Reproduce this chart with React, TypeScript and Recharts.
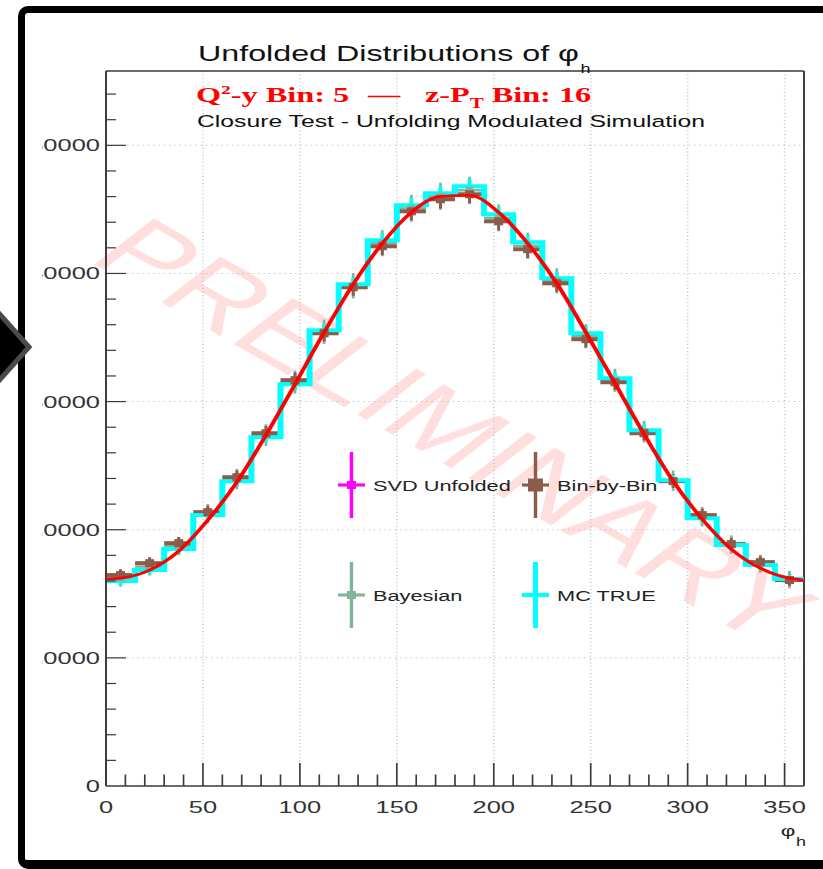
import React from 'react';
import { ComposedChart, Line, Scatter, ErrorBar, XAxis, YAxis, CartesianGrid, ReferenceLine, Legend } from 'recharts';

// bins of 15 degrees in phi_h
const phiCenters = [7.5, 22.5, 37.5, 52.5, 67.5, 82.5, 97.5, 112.5, 127.5, 142.5, 157.5, 172.5, 187.5, 202.5, 217.5, 232.5, 247.5, 262.5, 277.5, 292.5, 307.5, 322.5, 337.5, 352.5];
const phiEdges = [0, 15, 30, 45, 60, 75, 90, 105, 120, 135, 150, 165, 180, 195, 210, 225, 240, 255, 270, 285, 300, 315, 330, 345, 360];
const binHalfWidth = 7.5;

const mcTrue = [15990, 16850, 18490, 21140, 23790, 27220, 31360, 35570, 39160, 42590, 45320, 46250, 46800, 44620, 42430, 39620, 35330, 31820, 27770, 23870, 20900, 18800, 17240, 16150];
const mcTrueErr = [350, 360, 370, 390, 410, 440, 470, 500, 520, 540, 560, 570, 570, 560, 540, 520, 500, 470, 440, 410, 390, 370, 360, 350];
const binByBin = [16460, 17390, 18950, 21370, 24100, 27530, 31670, 35330, 38920, 42120, 44850, 45790, 46180, 44070, 41890, 39230, 34870, 31510, 27530, 23790, 21140, 18880, 17470, 16070];
const binByBinErr = [450, 460, 480, 500, 530, 560, 600, 640, 660, 690, 700, 720, 720, 700, 690, 660, 640, 600, 560, 530, 500, 480, 460, 450];
const bayesian = [16230, 17120, 18720, 21250, 23950, 27380, 31520, 35450, 39040, 42360, 45080, 46020, 46490, 44340, 42160, 39420, 35100, 31660, 27650, 23830, 21020, 18840, 17350, 16110];
const bayesianErr = [680, 700, 720, 760, 800, 850, 900, 950, 990, 1020, 1050, 1060, 1060, 1050, 1020, 990, 950, 900, 850, 800, 760, 720, 700, 680];

// red fit, read at bin centres and the range edges
const fitPhi = [0, 7.5, 22.5, 37.5, 52.5, 67.5, 82.5, 97.5, 112.5, 127.5, 142.5, 157.5, 172.5, 187.5, 202.5, 217.5, 232.5, 247.5, 262.5, 277.5, 292.5, 307.5, 322.5, 337.5, 352.5, 360];
const fitValues = [16150, 16220, 16850, 18330, 20750, 23710, 27380, 31360, 35410, 39160, 42350, 44770, 46020, 46100, 44770, 42350, 39230, 35410, 31430, 27460, 23790, 20830, 18490, 17000, 16220, 16070];

const xTicks = [0, 10, 20, 30, 40, 50, 60, 70, 80, 90, 100, 110, 120, 130, 140, 150, 160, 170, 180, 190, 200, 210, 220, 230, 240, 250, 260, 270, 280, 290, 300, 310, 320, 330, 340, 350];
const yTicks = [0, 2000, 4000, 6000, 8000, 10000, 12000, 14000, 16000, 18000, 20000, 22000, 24000, 26000, 28000, 30000, 32000, 34000, 36000, 38000, 40000, 42000, 44000, 46000, 48000, 50000, 52000, 54000];
const xGrid = [50, 100, 150, 200, 250, 300, 350];
const yGrid = [10000, 20000, 30000, 40000, 50000];
const xMax = 360;
const yMax = 55800;

const seriesNames = ['SVD Unfolded', 'Bin-by-Bin', 'Bayesian', 'MC TRUE'];
const seriesColors = ['#ff00ff', '#8c5b4a', '#7fb69a', '#00ffff'];

const sans = "'Liberation Sans', Arial, Helvetica, sans-serif";
const serif = "'Liberation Serif', 'Times New Roman', serif";
const axisColor = '#3a3a3a';

// the source picture is stretched horizontally, so everything is drawn narrow and scaled
const STRETCH = 1.5;
const W = 781 / STRETCH;
const H = 869;

const stepData = phiEdges.map((x, i) => ({ x, y: mcTrue[Math.min(i, mcTrue.length - 1)] }));
const mcPoints = phiCenters.map((x, i) => ({ x, y: mcTrue[i], ey: mcTrueErr[i] }));
const bbbPoints = phiCenters.map((x, i) => ({ x, y: binByBin[i], ex: binHalfWidth, ey: binByBinErr[i] }));
const bayPoints = phiCenters.map((x, i) => ({ x, y: bayesian[i], ex: binHalfWidth, ey: bayesianErr[i] }));
const fitData = fitPhi.map((x, i) => ({ x, y: fitValues[i] }));

const XTick = (props: any) => {
  const { x, y, payload } = props;
  const v = payload.value;
  const major = v % 50 === 0;
  return (
    <g>
      <line x1={x} x2={x} y1={y} y2={y - (major ? 23 : 11.5)} stroke={axisColor} strokeWidth={1.1} />
      {major && (
        <text x={x} y={y + 27} textAnchor="middle" fontSize={17} fontFamily={sans} fill="#333">{v}</text>
      )}
    </g>
  );
};

const YTick = (props: any) => {
  const { x, y, payload } = props;
  const v = payload.value;
  const major = v % 10000 === 0;
  return (
    <g>
      {v > 0 && <line x1={x} x2={x + (major ? 13.3 : 6.7)} y1={y} y2={y} stroke={axisColor} strokeWidth={1.2} />}
      {major && (
        <text x={x - 4} y={y + 6} textAnchor="end" fontSize={17} fontFamily={sans} fill="#333">{v}</text>
      )}
    </g>
  );
};

const square = (color: string, w: number, h: number) => (p: any) =>
  <rect x={p.cx - w / 2} y={p.cy - h / 2} width={w} height={h} fill={color} />;

const noMarker = () => <g />;

const renderLegend = () => {
  const cols = [16.3, 139];
  const rows = [45, 155];
  const markers = [
    { w: 6, h: 8, sw: 2.3 },
    { w: 10, h: 13, sw: 2.3 },
    { w: 6, h: 8, sw: 2.3 },
    { w: 0, h: 0, sw: 3.3 },
  ];
  return (
    <svg width={240} height={200} style={{ overflow: 'visible' }}>
      {seriesNames.map((name, i) => {
        const cx = cols[i % 2];
        const cy = rows[Math.floor(i / 2)];
        const m = markers[i];
        const c = seriesColors[i];
        return (
          <g key={name}>
            <line x1={cx} x2={cx} y1={cy - 33} y2={cy + 33} stroke={c} strokeWidth={m.sw} />
            <line x1={cx - 9} x2={cx + 9} y1={cy} y2={cy} stroke={c} strokeWidth={m.sw + 0.8} />
            {m.w > 0 && <rect x={cx - m.w / 2} y={cy - m.h / 2} width={m.w} height={m.h} fill={c} />}
            <text x={cx + 14.4} y={cy + 6} fontSize={14.5} fontFamily={sans} fill="#222">{name}</text>
          </g>
        );
      })}
    </svg>
  );
};

export default function App() {
  return (
    <div style={{ position: 'absolute', left: 0, top: 0, width: 823, height: 869, overflow: 'hidden', background: '#fff' }}>
      {/* slide frame around the screenshot (open on the right) */}
      <div style={{ position: 'absolute', left: 18, top: 6, width: 860, height: 863, boxSizing: 'border-box', borderTop: '7px solid #000', borderLeft: '7px solid #000', borderBottom: '9px solid #000', borderRight: 'none', borderTopLeftRadius: 10, borderBottomLeftRadius: 10 }} />
      <div style={{ position: 'absolute', left: 42, top: 0, width: 781, height: 860, overflow: 'hidden' }}>
        <div style={{ position: 'absolute', left: 0, top: 0, width: W, height: H, transform: `scaleX(${STRETCH})`, transformOrigin: '0 0' }}>
          <svg width={W} height={H} style={{ position: 'absolute', left: 0, top: 0 }}>
            <text x={275.3} y={430} transform="rotate(40.6 275.3 430)" textAnchor="middle" dominantBaseline="central" fontSize={88} fontFamily={sans} fill="#ff0000" fillOpacity={0.13}>PRELIMINARY</text>
          </svg>
          <ComposedChart width={W} height={H} margin={{ top: 71, right: W - 508, bottom: 0, left: 0 }}>
            <CartesianGrid horizontalValues={yGrid} verticalValues={xGrid} stroke="#c4c4c4" strokeDasharray="1 2.5" />
            <XAxis dataKey="x" type="number" domain={[0, xMax]} ticks={xTicks} interval={0} tickSize={0} tickMargin={0} height={83} tick={XTick} tickLine={false} axisLine={{ stroke: axisColor, strokeWidth: 1.3 }} allowDataOverflow />
            <YAxis type="number" domain={[0, yMax]} ticks={yTicks} interval={0} tickSize={0} tickMargin={0} width={42.67} tick={YTick} tickLine={false} axisLine={{ stroke: axisColor, strokeWidth: 1.3 }} allowDataOverflow />
            <ReferenceLine y={yMax} stroke={axisColor} strokeWidth={1.3} />
            <ReferenceLine x={xMax} stroke={axisColor} strokeWidth={1.3} />
            <Scatter name={seriesNames[2]} data={bayPoints} dataKey="y" fill={seriesColors[2]} shape={square(seriesColors[2], 5, 7)} isAnimationActive={false}>
              <ErrorBar dataKey="ex" direction="x" width={0} stroke={seriesColors[2]} strokeWidth={2.5} />
              <ErrorBar dataKey="ey" direction="y" width={0} stroke={seriesColors[2]} strokeWidth={1.8} />
            </Scatter>
            <Scatter name={seriesNames[1]} data={bbbPoints} dataKey="y" fill={seriesColors[1]} shape={square(seriesColors[1], 6, 8)} isAnimationActive={false}>
              <ErrorBar dataKey="ex" direction="x" width={0} stroke={seriesColors[1]} strokeWidth={4} />
              <ErrorBar dataKey="ey" direction="y" width={0} stroke={seriesColors[1]} strokeWidth={2} />
            </Scatter>
            <Line name={seriesNames[3]} data={stepData} dataKey="y" type="stepAfter" stroke={seriesColors[3]} strokeWidth={4} dot={false} activeDot={false} isAnimationActive={false} />
            <Scatter data={mcPoints} dataKey="y" fill={seriesColors[3]} shape={noMarker} legendType="none" isAnimationActive={false}>
              <ErrorBar dataKey="ey" direction="y" width={0} stroke={seriesColors[3]} strokeWidth={2.6} />
            </Scatter>
            <Line data={fitData} dataKey="y" type="monotone" stroke="#ff0000" strokeWidth={2.8} dot={false} activeDot={false} legendType="none" isAnimationActive={false} zIndex={900} />
            <Legend layout="horizontal" verticalAlign="middle" align="center" content={renderLegend} wrapperStyle={{ left: 190, top: 440, width: 240, height: 200 }} />
          </ComposedChart>
          <svg width={W} height={H} style={{ position: 'absolute', left: 0, top: 0, pointerEvents: 'none' }}>
            <text x={104} y={61} fontSize={21.5} fontFamily={sans} fill="#111">
              Unfolded Distributions of φ<tspan dx={1} dy={12} fontSize={12}>h</tspan>
            </text>
            <text x={102.7} y={102} fontSize={21.5} fontFamily={serif} fontWeight="bold" fill="#ff0000">
              Q<tspan dy={-8} fontSize={13}>2</tspan><tspan dy={8}>-y Bin: 5</tspan>
            </text>
            <text x={217.3} y={102} fontSize={21.5} fontFamily={serif} fontWeight="bold" fill="#ff0000">—</text>
            <text x={255.3} y={102} fontSize={21.5} fontFamily={serif} fontWeight="bold" fill="#ff0000">
              z-P<tspan dy={6} fontSize={14}>T</tspan><tspan dy={-6}> Bin: 16</tspan>
            </text>
            <text x={103.3} y={127} fontSize={16.5} fontFamily={sans} fill="#111">Closure Test - Unfolding Modulated Simulation</text>
            <text x={492.5} y={836} fontSize={15} fontFamily={sans} fill="#222">
              φ<tspan dx={0.5} dy={10} fontSize={12}>h</tspan>
            </text>
          </svg>
        </div>
      </div>
      <svg width={40} height={869} style={{ position: 'absolute', left: 0, top: 0 }}>
        <polygon points="-20,292 29,347 -20,402" fill="#000" stroke="#4a4a4a" strokeWidth={5} />
      </svg>
    </div>
  );
}
